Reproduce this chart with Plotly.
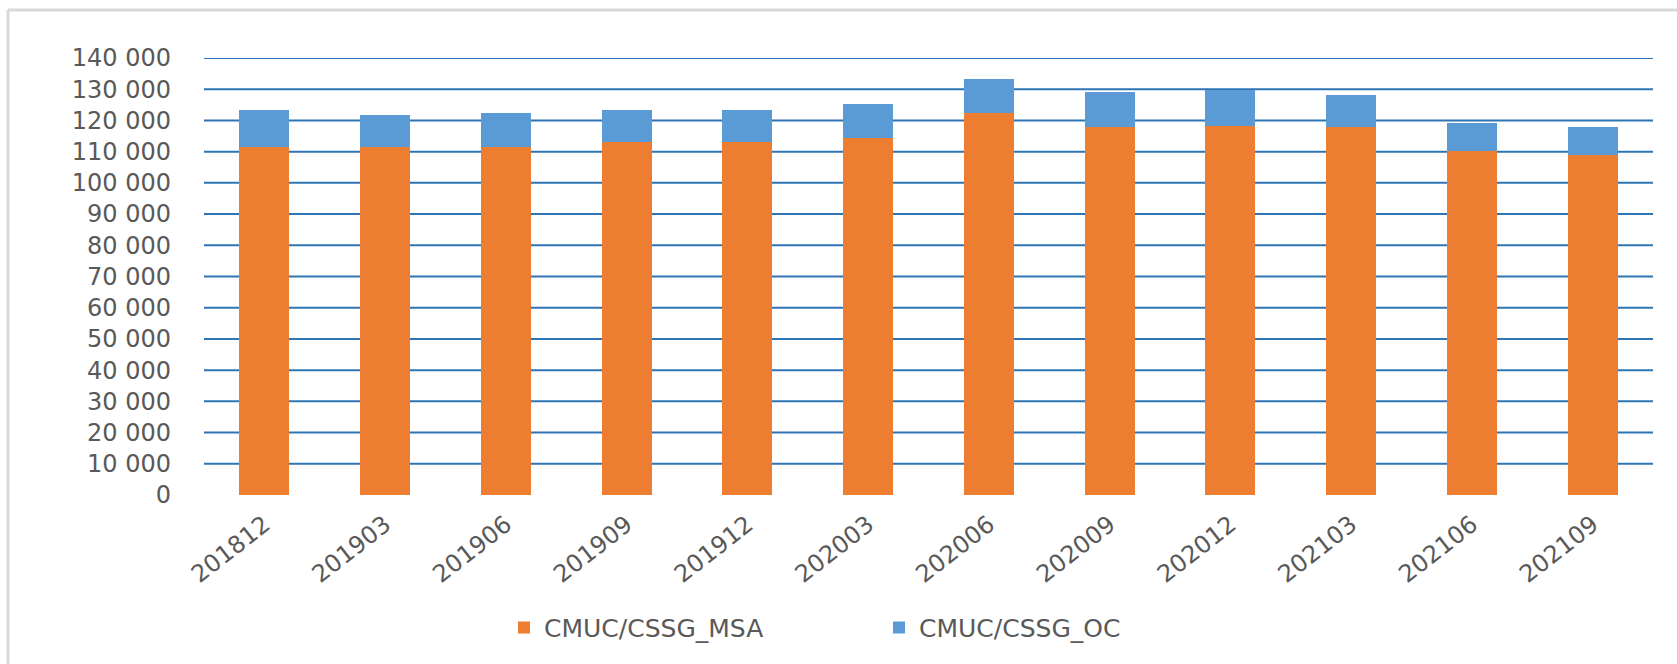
import plotly.graph_objects as go

# Quarterly periods (YYYYMM)
periods = ["201812", "201903", "201906", "201909", "201912", "202003",
           "202006", "202009", "202012", "202103", "202106", "202109"]

msa_values = [111500, 111500, 111500, 113200, 113200, 114300,
              122400, 117900, 118300, 118000, 110100, 108800]
oc_values = [12000, 10300, 11000, 10000, 10000, 11000,
             10900, 11200, 11500, 10200, 9100, 9100]

y_ticks = [0, 10000, 20000, 30000, 40000, 50000, 60000, 70000,
           80000, 90000, 100000, 110000, 120000, 130000, 140000]

ORANGE = "#ED7D31"
BLUE = "#5B9BD5"
GRID = "#2E75B6"
TEXT = "#595959"
FONT = "DejaVu Sans"

fig = go.Figure()
fig.add_trace(go.Bar(x=periods, y=msa_values, name="CMUC/CSSG_MSA",
                     marker=dict(color=ORANGE, line=dict(width=0))))
fig.add_trace(go.Bar(x=periods, y=oc_values, name="CMUC/CSSG_OC",
                     marker=dict(color=BLUE, line=dict(width=0))))

# Horizontal grid lines behind the bars (none at the baseline)
shapes = []
for v in y_ticks[1:]:
    shapes.append(dict(type="line", xref="paper", yref="y", x0=0, x1=1,
                       y0=v, y1=v, layer="below",
                       line=dict(color=GRID, width=2)))
# Chart frame edges
shapes.append(dict(type="line", xref="paper", yref="paper",
                   x0=-196 / 1449, x1=1.02, y0=1 + 48 / 437, y1=1 + 48 / 437,
                   line=dict(color="#D9D9D9", width=3)))
shapes.append(dict(type="line", xref="paper", yref="paper",
                   x0=-196 / 1449, x1=-196 / 1449, y0=1 + 48 / 437, y1=-0.5,
                   line=dict(color="#D9D9D9", width=3)))

fig.update_layout(
    barmode="stack",
    bargap=0.586,
    width=1677, height=664,
    margin=dict(l=204, r=24, t=58, b=169),
    paper_bgcolor="white",
    plot_bgcolor="white",
    separators=". ",
    shapes=shapes,
    font=dict(family=FONT, color=TEXT),
    legend=dict(orientation="h", x=(504 - 204) / 1449, xanchor="left",
                y=-0.304, yanchor="middle",
                font=dict(size=25, color=TEXT, family=FONT),
                itemwidth=30, entrywidth=330, entrywidthmode="pixels",
                traceorder="normal"),
    xaxis=dict(showgrid=False, showline=False, zeroline=False,
               tickangle=-38, tickfont=dict(size=24, color=TEXT, family=FONT),
               ticklabelstandoff=10, ticks=""),
    yaxis=dict(range=[0, 140000], tickvals=y_ticks, tickformat=",d",
               showgrid=False, zeroline=False, showline=False,
               tickfont=dict(size=24, color=TEXT, family=FONT),
               ticklabelstandoff=32, ticks=""),
    showlegend=True,
)

fig.write_html("out.html")
